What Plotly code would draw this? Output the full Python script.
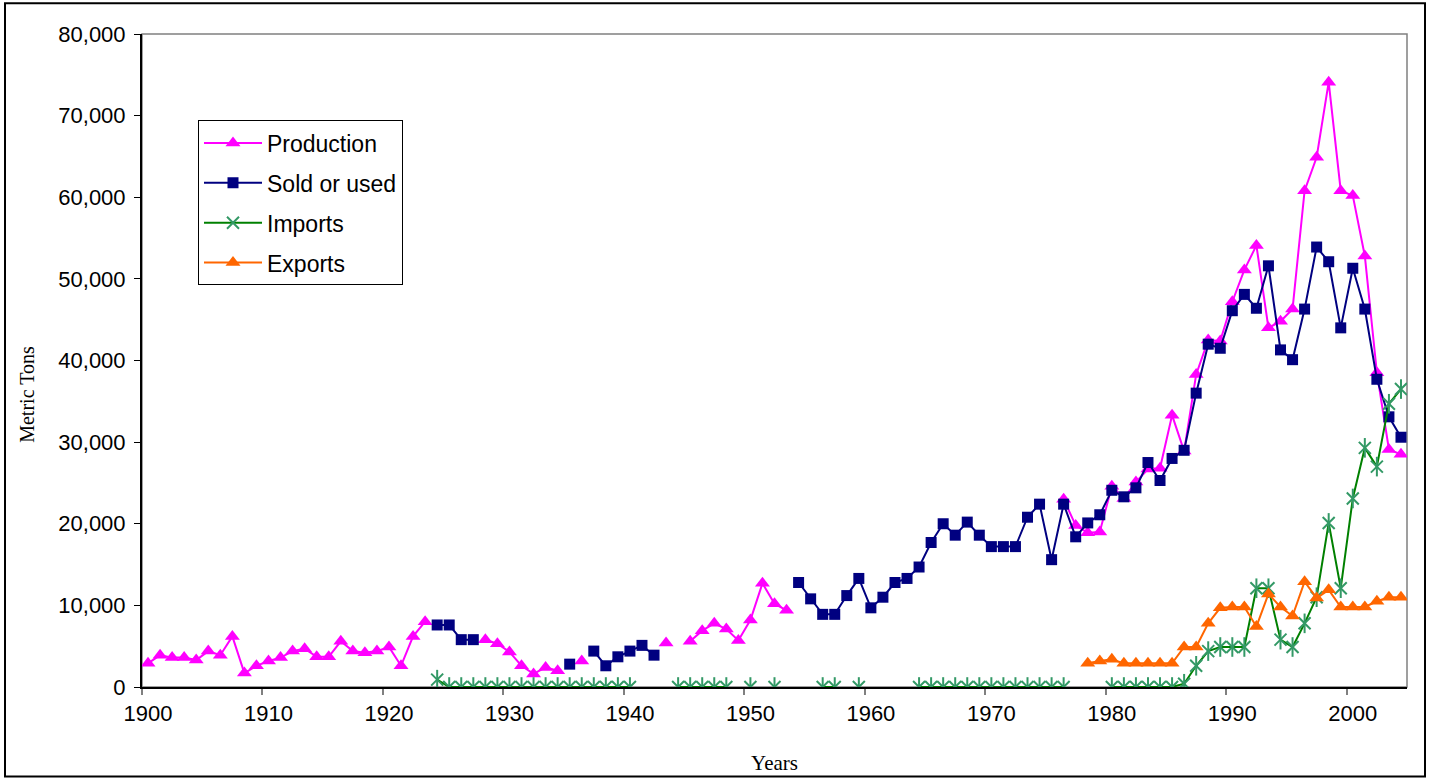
import plotly.graph_objects as go

# ---------------- data ----------------
years = list(range(1900, 2005))

production = (
    [2900, 3900, 3600, 3600, 3300, 4400, 3900, 6200, 1700, 2600]            # 1900s
    + [3200, 3600, 4400, 4700, 3700, 3700, 5600, 4400, 4200, 4400]          # 1910s
    + [4900, 2600, 6200, 8000, None, None, None, None, 5800, 5300]          # 1920s
    + [4300, 2600, 1600, 2400, 2000, None, 3200, None, None, None]          # 1930s
    + [None, None, None, 5400, None, 5600, 6900, 7800, 7100, 5700]          # 1940s
    + [8200, 12700, 10200, 9400, None, None, None, None, None, None]        # 1950s
    + [None, None, None, None, None, None, None, None, None, None]          # 1960s
    + [None, None, None, None, None, None, 23000, 19800, 18900, 19000]      # 1970s
    + [24600, 23100, 25100, 26700, 26800, 33300, 28900, 38300, 42500, 42400]  # 1980s
    + [47200, 51100, 54100, 44000, 44800, 46300, 60800, 64900, 74100, 60800]  # 1990s
    + [60200, 52800, 38500, 29100, 28500]                                    # 2000s
)

sold_or_used = (
    [None, None, None, None, None, None, None, None, None, None]            # 1900s
    + [None, None, None, None, None, None, None, None, None, None]          # 1910s
    + [None, None, None, None, 7600, 7600, 5800, 5800, None, None]          # 1920s
    + [None, None, None, None, None, 2800, None, 4400, 2600, 3700]          # 1930s
    + [4400, 5100, 3900, None, None, None, None, None, None, None]          # 1940s
    + [None, None, None, None, 12800, 10800, 8900, 8900, 11200, 13300]      # 1950s
    + [9700, 11000, 12800, 13300, 14700, 17700, 20000, 18600, 20200, 18600]  # 1960s
    + [17200, 17200, 17200, 20800, 22400, 15600, 22400, 18400, 20100, 21100]  # 1970s
    + [24100, 23300, 24400, 27500, 25300, 28000, 29000, 36000, 42000, 41500]  # 1980s
    + [46100, 48100, 46400, 51600, 41300, 40100, 46300, 53900, 52100, 44000]  # 1990s
    + [51300, 46300, 37700, 33100, 30600]                                    # 2000s
)

imports = (
    [None, None, None, None, None, None, None, None, None, None]            # 1900s
    + [None, None, None, None, None, None, None, None, None, None]          # 1910s
    + [None, None, None, None, 900, 0, 0, 0, 0, 0]                          # 1920s
    + [0, 0, 0, 0, 0, 0, 0, 0, 0, 0]                                        # 1930s
    + [0, None, None, None, 0, 0, 0, 0, 0, None]                            # 1940s
    + [0, None, 0, None, None, None, 0, 0, None, 0]                         # 1950s
    + [None, None, None, None, 0, 0, 0, 0, 0, 0]                            # 1960s
    + [0, 0, 0, 0, 0, 0, 0, None, None, None]                               # 1970s
    + [0, 0, 0, 0, 0, 0, 400, 2600, 4400, 4900]                             # 1980s
    + [4900, 4900, 12100, 12100, 5800, 4900, 7800, 11000, 20100, 12100]     # 1990s
    + [23100, 29300, 27000, 34700, 36500]                                   # 2000s
)

exports = (
    [None] * 78                                                             # 1900-1977
    + [2900, 3200]                                                          # 1978-79
    + [3400, 2900, 2900, 2900, 2900, 2900, 4900, 4900, 7800, 9700]          # 1980s
    + [9800, 9800, 7400, 11400, 9800, 8700, 12900, 10900, 11900, 9800]      # 1990s
    + [9800, 9800, 10500, 11000, 11000]                                     # 2000s
)

tick_years = [1900, 1910, 1920, 1930, 1940, 1950, 1960, 1970, 1980, 1990, 2000]
tick_text = [str(y) for y in tick_years]

# ---------------- styles ----------------
SANS = "Liberation Sans, Arial, sans-serif"
SERIF = "Liberation Serif, Times New Roman, serif"

fig = go.Figure()

fig.add_trace(go.Scatter(
    x=years, y=production, name="Production", mode="lines+markers",
    line=dict(color="#FF00FF", width=2),
    marker=dict(symbol="triangle-up", size=13, color="#FF00FF"),
    legendgroup="p",
))
fig.add_trace(go.Scatter(
    x=years, y=sold_or_used, name="Sold or used", mode="lines+markers",
    line=dict(color="#000080", width=2),
    marker=dict(symbol="square", size=11, color="#000080"),
    legendgroup="s",
))
fig.add_trace(go.Scatter(
    x=years, y=imports, name="Imports", mode="lines+markers",
    line=dict(color="#008000", width=2),
    marker=dict(symbol="x-thin-open", size=12, color="#339966",
                line=dict(color="#339966", width=2)),
    legendgroup="i",
))
fig.add_trace(go.Scatter(
    x=years, y=imports, name="Imports", mode="markers", showlegend=False,
    marker=dict(symbol="line-ns-open", size=14, color="#339966",
                line=dict(color="#339966", width=2)),
    legendgroup="i", hoverinfo="skip",
))
fig.add_trace(go.Scatter(
    x=years, y=exports, name="Exports", mode="lines+markers",
    line=dict(color="#FF6600", width=2),
    marker=dict(symbol="triangle-up", size=13, color="#FF6600"),
    legendgroup="e",
))

W, H = 1430, 783
L, R, T, B = 142, 23, 34, 92
pw, ph = W - L - R, H - T - B

def px(xpix):
    return (xpix - L) / pw

def py(ypix):
    return (H - B - ypix) / ph

fig.update_layout(
    width=W, height=H,
    margin=dict(l=L, r=R, t=T, b=B),
    paper_bgcolor="white", plot_bgcolor="white",
    font=dict(family=SANS, size=22, color="black"),
    showlegend=True,
    legend=dict(
        x=px(198), y=py(121), xanchor="left", yanchor="top",
        bordercolor="black", borderwidth=1, bgcolor="white",
        font=dict(family=SANS, size=23, color="black"),
        traceorder="grouped", tracegroupgap=7, itemwidth=58,
    ),
    xaxis=dict(
        range=[1899.5, 2004.5],
        tickmode="array", tickvals=tick_years, ticktext=tick_text,
        ticks="outside", ticklen=6, tickcolor="rgba(0,0,0,0)",
        minor=dict(tickmode="linear", tick0=1899.5, dtick=10,
                   ticks="outside", ticklen=6, tickcolor="#808080", tickwidth=2,
                   showgrid=False),
        showgrid=False, zeroline=False,
        showline=True, linecolor="black", linewidth=1.5,
        tickfont=dict(family=SANS, size=22),
        title=dict(text="Years", font=dict(family=SERIF, size=21), standoff=30),
    ),
    yaxis=dict(
        range=[0, 80000], dtick=10000, tickformat=",",
        ticks="outside", ticklen=6, tickcolor="black", tickwidth=1,
        ticklabelstandoff=4,
        showgrid=False, zeroline=False,
        showline=True, linecolor="black", linewidth=2,
        tickfont=dict(family=SANS, size=22),
    ),
    annotations=[
        dict(text="Metric Tons", xref="paper", yref="paper",
             x=px(27), y=py(397), xanchor="center", yanchor="middle",
             textangle=-90, showarrow=False,
             font=dict(family=SERIF, size=20, color="black")),
    ],
    shapes=[
        dict(type="rect", xref="paper", yref="paper", x0=0, x1=1, y0=0, y1=1,
             line=dict(color="#808080", width=1.5), layer="below"),
        dict(type="rect", xref="paper", yref="paper",
             x0=px(5), x1=px(1425), y0=py(781), y1=py(3),
             line=dict(color="black", width=2), layer="below"),
    ],
)

fig.write_html("out.html", config={"displayModeBar": False},
               post_script="document.body.style.margin='0';")
